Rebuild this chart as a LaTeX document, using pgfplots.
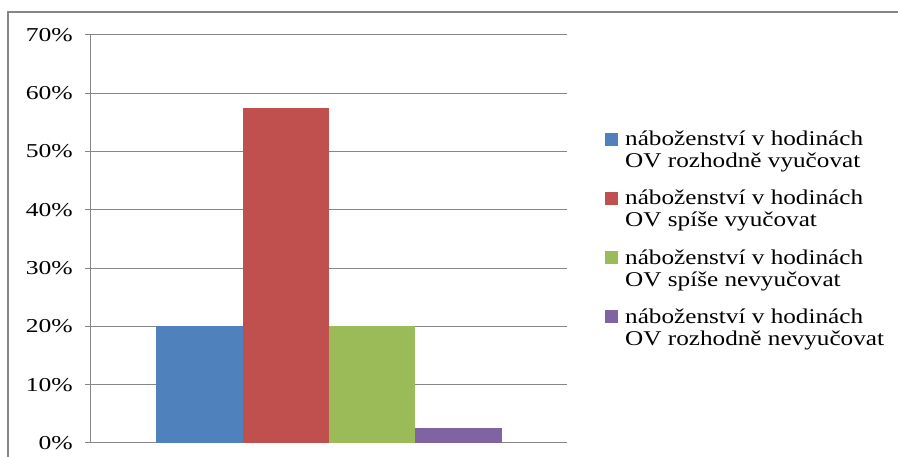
\documentclass[border=0pt]{standalone}
\usepackage{fontspec}
\setmainfont{Liberation Serif}
\newfontfamily\tickfont{Liberation Serif}[FakeStretch=1.3]
\newfontfamily\legfont{Liberation Serif}[FakeStretch=1.2]
\usepackage{pgfplots}
\pgfplotsset{compat=1.18}
\definecolor{xlblue}{HTML}{4F81BD}
\definecolor{xlred}{HTML}{C0504D}
\definecolor{xlgreen}{HTML}{9BBB59}
\definecolor{xlpurple}{HTML}{8064A2}
\definecolor{xlgray}{HTML}{868686}
\begin{document}
\begin{tikzpicture}
\path[use as bounding box] (0pt,0pt) rectangle (898pt,457pt);
\draw[xlgray, line width=2pt] (8pt,0pt) -- (8pt,445pt) -- (898pt,445pt);
\begin{axis}[
  at={(91pt,14pt)}, anchor=south west,
  scale only axis, width=476pt, height=408pt,
  xmin=-1, xmax=1, ymin=0, ymax=70,
  axis x line=none, axis y line=left,
  axis line style={draw=xlgray, line width=1pt, -},
  ytick={0,10,...,70},
  yticklabels={0\%,10\%,20\%,30\%,40\%,50\%,60\%,70\%},
  ytick pos=left, tick align=outside, major tick length=6pt,
  tick style={draw=xlgray, line width=1pt},
  ymajorgrids, grid style={draw=xlgray, line width=1pt},
  yticklabel style={font=\tickfont\fontsize{19.7}{22}\selectfont, inner sep=0pt, xshift=-12pt},
  ybar=0pt, bar width=86.25pt,
  legend cell align=left,
  legend style={at={(axis description cs:1.0798,0.5)}, anchor=west, draw=none, fill=none,
    inner sep=0pt, row sep=21pt, column sep=7pt,
    nodes={align=left, inner sep=0pt, font=\legfont\fontsize{21}{22}\selectfont}},
  legend image code/.code={\fill[#1] (0pt,4.5pt) rectangle (13pt,17.5pt);},
]
\addplot[fill=xlblue, draw=none] coordinates {(0,20)};
\addplot[fill=xlred, draw=none] coordinates {(0,57.5)};
\addplot[fill=xlgreen, draw=none] coordinates {(0,20)};
\addplot[fill=xlpurple, draw=none] coordinates {(0,2.5)};
\legend{náboženství v hodinách\\OV rozhodně vyučovat,
        náboženství v hodinách\\OV spíše vyučovat,
        náboženství v hodinách\\OV spíše nevyučovat,
        náboženství v hodinách\\OV rozhodně nevyučovat}
\end{axis}
\end{tikzpicture}
\end{document}
